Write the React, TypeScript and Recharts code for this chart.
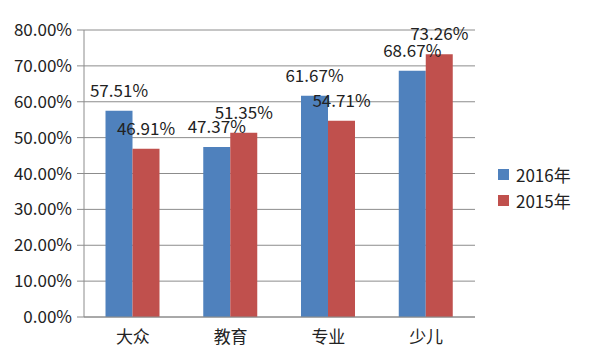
import { BarChart, Bar, XAxis, YAxis, CartesianGrid, Legend, LabelList } from 'recharts';

const categories = ['大众', '教育', '专业', '少儿'];
const values2016 = [57.51, 47.37, 61.67, 68.67];
const values2015 = [46.91, 51.35, 54.71, 73.26];
const seriesOrder = ['2016年', '2015年'];
const yTicks = [0, 10, 20, 30, 40, 50, 60, 70, 80];
const boundaryTicks = [0, 1, 2, 3, 4];

const data = categories.map((name, i) => ({ name, y2016: values2016[i], y2015: values2015[i] }));

const FONT = '"Noto Sans CJK SC", "Noto Sans", sans-serif';
const GRID = '#8c8c8c';
const TEXT = '#222';
const fmt = (v: number) => `${v.toFixed(2)}%`;

function LegendBox({ payload }: any) {
  const items = [...(payload || [])].sort(
    (a: any, b: any) => seriesOrder.indexOf(a.value) - seriesOrder.indexOf(b.value)
  );
  return (
    <div style={{ fontFamily: FONT, fontSize: 17, color: TEXT }}>
      {items.map((p: any) => (
        <div key={p.value} style={{ display: 'flex', alignItems: 'center', height: 26 }}>
          <span style={{ width: 11, height: 11, background: p.color, marginRight: 7, display: 'inline-block' }} />
          <span>{p.value}</span>
        </div>
      ))}
    </div>
  );
}

export default function App() {
  return (
    <div style={{ position: 'absolute', left: 0, top: 0, background: '#fff' }}>
      <BarChart
        width={600}
        height={356}
        data={data}
        margin={{ top: 30, right: 25, bottom: 0, left: 0 }}
        barCategoryGap="22%"
        barGap={0}
      >
        <CartesianGrid vertical={false} stroke={GRID} />
        <XAxis
          dataKey="name"
          tickLine={false}
          axisLine={{ stroke: GRID }}
          tick={{ fill: TEXT, fontSize: 17, fontFamily: FONT }}
          tickSize={8}
          tickMargin={6}
          height={39}
        />
        <XAxis
          xAxisId="bounds"
          type="number"
          domain={[0, 4]}
          ticks={boundaryTicks}
          tick={false}
          tickLine={{ stroke: GRID }}
          tickSize={8}
          axisLine={false}
          height={0}
        />
        <YAxis
          domain={[0, 80]}
          ticks={yTicks}
          tickFormatter={fmt}
          width={84}
          tick={{ fill: TEXT, fontSize: 17, fontFamily: FONT }}
          axisLine={{ stroke: GRID }}
          tickLine={{ stroke: GRID }}
          tickSize={7}
          tickMargin={5}
        />
        <Legend
          layout="vertical"
          align="right"
          verticalAlign="top"
          wrapperStyle={{ left: 498, top: 161, width: 100 }}
          content={<LegendBox />}
        />
        <Bar dataKey="y2016" name="2016年" fill="#4F81BD" isAnimationActive={false}>
          <LabelList dataKey="y2016" position="top" offset={14} formatter={(v: any) => fmt(Number(v))} style={{ fill: TEXT, fontSize: 17, fontFamily: FONT }} />
        </Bar>
        <Bar dataKey="y2015" name="2015年" fill="#C0504D" isAnimationActive={false}>
          <LabelList dataKey="y2015" position="top" offset={14} formatter={(v: any) => fmt(Number(v))} style={{ fill: TEXT, fontSize: 17, fontFamily: FONT }} />
        </Bar>
      </BarChart>
    </div>
  );
}
